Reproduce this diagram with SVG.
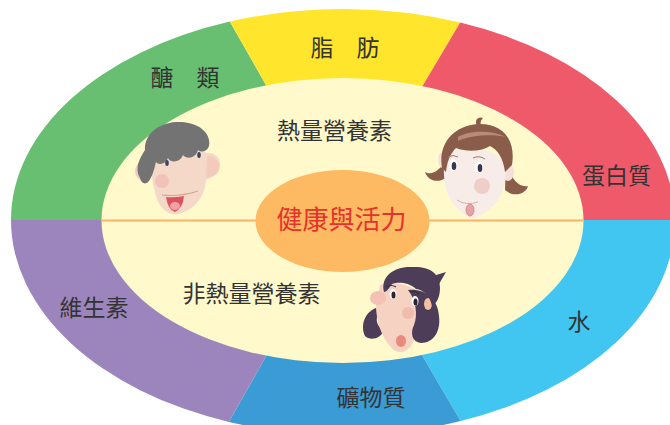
<svg xmlns="http://www.w3.org/2000/svg" width="670" height="425" viewBox="0 0 670 425">
  <style>
    .lbl { font-family: "Noto Sans CJK TC", "Noto Sans CJK SC", sans-serif; font-size: 23px; fill: #333333; text-anchor: middle; }
    .core { font-family: "Noto Sans CJK TC", "Noto Sans CJK SC", sans-serif; font-size: 26px; fill: #e8302c; text-anchor: middle; }
    .eyew { fill: #ffffff; }
  </style>
  <rect width="670" height="425" fill="#ffffff"/>

  <!-- outer ring, six nutrient groups -->
  <g id="carbohydrate">
    <path d="M343,220 L11,220 A332,211 0 0,1 229.8,21.6 Z" fill="#68bf72"/>
    <text class="lbl" x="185" y="85.5">醣　類</text>
  </g>
  <g id="fat">
    <path d="M343,220 L229.8,21.6 A332,211 0 0,1 460.2,22.6 Z" fill="#ffe52b"/>
    <text class="lbl" x="345" y="55.5">脂　肪</text>
  </g>
  <g id="protein">
    <path d="M343,220 L460.2,22.6 A332,211 0 0,1 675,220 Z" fill="#ef5a6a"/>
    <text class="lbl" x="616.5" y="183.5">蛋白質</text>
  </g>
  <g id="water">
    <path d="M343,220 L675,220 A332,215 0 0,1 460.6,421.1 Z" fill="#40c6f1"/>
    <text class="lbl" x="579" y="329.5">水</text>
  </g>
  <g id="mineral">
    <path d="M343,220 L460.6,421.1 A332,215 0 0,1 228.9,421.9 Z" fill="#3a9bd5"/>
    <text class="lbl" x="371" y="405.5">礦物質</text>
  </g>
  <g id="vitamin">
    <path d="M343,220 L228.9,421.9 A332,215 0 0,1 11,220 Z" fill="#9c85bd"/>
    <text class="lbl" x="94" y="315.5">維生素</text>
  </g>

  <!-- inner field -->
  <g id="inner">
    <ellipse cx="342.5" cy="220.5" rx="241" ry="142.5" fill="#fff9cc"/>
    <text class="lbl" x="334.5" y="138.5">熱量營養素</text>
    <text class="lbl" x="251.5" y="301.5">非熱量營養素</text>
  </g>

  <g id="connectors">
    <line x1="101.5" y1="220.5" x2="583.5" y2="220.5" stroke="#f8b462" stroke-width="2"/>
  </g>

  <g id="health">
    <ellipse cx="342.5" cy="221" rx="87" ry="51" fill="#fdba62"/>
    <text class="core" x="341.5" y="228.5">健康與活力</text>
  </g>

  <!-- face: man with grey hair -->
  <g id="face-man">
    <ellipse cx="144" cy="171" rx="9" ry="10" fill="#f3cbbd"/>
    <path d="M152,158 C165,148 195,145 207,153 C216,152 223,160 219,170 C216,177 209,178 206,180 C205,196 195,210 178,214 C166,216 158,206 155,192 C152,180 150,168 152,158 Z" fill="#f5d9c8"/>
    <path d="M207,156 C214,155 221,161 219,170 C216,176 210,177 206,178 Z" fill="#f4cabd"/>
    <path d="M140,178 C134,168 140,158 145,150 C144,135 158,123 176,122 C192,121 207,128 209,140 C211,150 203,154 198,150 C196,158 187,160 183,155 C180,163 170,163 168,158 C165,165 158,165 156,162 C154,170 152,178 148,182 C145,185 141,183 140,178 Z" fill="#737373"/>
    <ellipse cx="167" cy="163" rx="1.8" ry="3" fill="#3c4766"/>
    <ellipse cx="199" cy="155" rx="1.8" ry="3" fill="#3c4766"/>
    <circle cx="162" cy="181" r="7" fill="#f0c2b8"/>
    <path d="M162,195 Q180,197 198,191" fill="none" stroke="#d9a090" stroke-width="1.2"/>
    <path d="M166,197 Q174,198 184,196 Q183,208 175,212 Q168,210 166,197 Z" fill="#d9545f"/>
    <ellipse cx="175" cy="206" rx="5" ry="4" fill="#f2a0a0"/>
  </g>

  <!-- face: girl with brown hair -->
  <g id="face-girl">
    <path d="M446,160 C440,170 432,176 425,172 C428,181 438,184 447,177 Z" fill="#8a5d4a"/>
    <path d="M506,160 C510,178 518,188 528,186 C526,194 514,198 505,190 Z" fill="#8a5d4a"/>
    <ellipse cx="443" cy="160" rx="5" ry="8" fill="#f4e0da"/>
    <ellipse cx="508" cy="172" rx="6" ry="9" fill="#f4e0da"/>
    <path d="M446,150 C458,148 470,153 480,150 C490,150 500,155 505,165 C508,185 500,203 488,210 C482,215 475,220 470,218 C462,214 452,205 447,192 C443,180 443,162 446,150 Z" fill="#f7ece8"/>
    <path d="M442,168 C438,145 452,126 478,124 C503,123 516,140 512,165 L505,172 C503,158 498,150 490,146 C480,152 466,152 456,148 C450,154 447,162 446,172 Z" fill="#8a5d4a"/>
    <path d="M477,126 C474,120 478,116 483,118 C480,121 480,124 482,127 Z" fill="#8a5d4a"/>
    <path d="M458,137 C470,130 492,130 506,137 C494,134 470,135 458,141 Z" fill="#b98a78"/>
    <path d="M448,157 Q453,154 458,157 M473,158 Q479,155 485,159" fill="none" stroke="#a87a66" stroke-width="1"/>
    <ellipse class="eyew" cx="453" cy="165" rx="4" ry="6"/>
    <ellipse class="eyew" cx="479" cy="167" rx="4" ry="6"/>
    <ellipse cx="454" cy="166" rx="2.3" ry="4" fill="#3b3450"/>
    <ellipse cx="480" cy="168" rx="2.3" ry="4" fill="#3b3450"/>
    <circle cx="482" cy="186" r="8" fill="#efcdc8"/>
    <path d="M457,200 Q466,206 478,202" fill="none" stroke="#d8b0a8" stroke-width="1"/>
    <ellipse cx="470" cy="210" rx="4" ry="6" fill="#e7a3a3" stroke="#c98080" stroke-width="0.8"/>
  </g>

  <!-- face: woman with dark hair -->
  <g id="face-woman">
    <path d="M376,308 C365,312 360,325 365,336 C370,341 381,339 384,330 C378,328 374,320 379,312 Z" fill="#4e3d58"/>
    <path d="M380,285 C395,281 412,284 419,294 C422,312 419,333 411,346 C405,354 396,354 390,346 C381,336 376,320 376,305 Z" fill="#f5d2c2"/>
    <path d="M408,290 C424,288 438,298 439,316 C441,332 433,343 421,343 C412,342 410,333 414,325 C418,315 416,300 408,290 Z" fill="#4e3d58"/>
    <ellipse cx="428" cy="304" rx="4" ry="6" fill="#f3c0a0"/>
    <ellipse cx="378" cy="298" rx="8" ry="7" fill="#f3c2b4"/>
    <path d="M384,292 C380,276 395,266 412,267 C428,266 440,272 440,288 C440,298 436,304 432,306 C430,296 424,290 416,289 C408,282 398,282 392,284 C389,288 387,292 384,292 Z" fill="#4e3d58"/>
    <path d="M433,276 L446,272 L439,284 Z" fill="#4e3d58"/>
    <path d="M386,287 Q391,284 396,287 M410,292 Q415,290 419,294" fill="none" stroke="#3a2b42" stroke-width="1.2"/>
    <ellipse class="eyew" cx="393" cy="294" rx="3.5" ry="5"/>
    <ellipse class="eyew" cx="415" cy="301" rx="3.5" ry="5"/>
    <ellipse cx="393.5" cy="295" rx="2" ry="3.5" fill="#2d2230"/>
    <ellipse cx="415.5" cy="302" rx="2" ry="3.5" fill="#2d2230"/>
    <circle cx="408" cy="313" r="6" fill="#f0bcae"/>
    <ellipse cx="401" cy="341" rx="5" ry="6" fill="#ea8a7a"/>
  </g>
</svg>
